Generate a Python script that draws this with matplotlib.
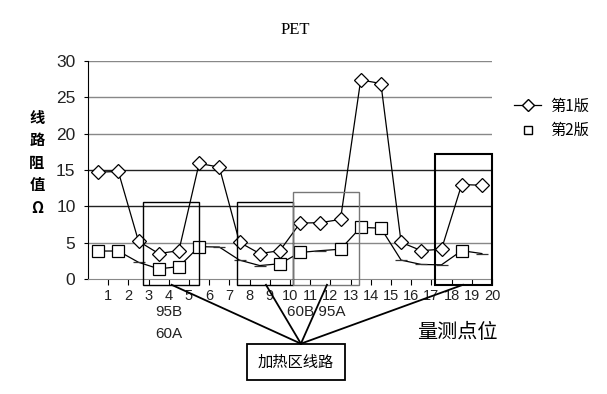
import matplotlib
matplotlib.use("Agg")
import matplotlib.pyplot as plt
from matplotlib.patches import Rectangle
from matplotlib.lines import Line2D

plt.rcParams['font.family'] = ['Liberation Sans', 'Noto Sans CJK SC', 'DejaVu Sans']

# data
points = list(range(1, 21))
ver1 = [14.7, 14.8, 5.2, 3.5, 3.9, 15.9, 15.4, 5.05, 3.5, 3.9,
        7.7, 7.75, 8.2, 27.4, 26.9, 5.05, 3.9, 4.1, 13.0, 12.9]
ver2 = [3.85, 3.85, 2.3, 1.4, 1.7, 4.45, 4.4, 2.6, 1.85, 2.1,
        3.65, 3.9, 4.1, 7.1, 7.0, 2.6, 2.0, 1.95, 3.9, 3.5]
# which points of version 2 still show a full square marker in the scan
ver2_square = [1, 2, 4, 5, 6, 10, 11, 13, 14, 15, 19]
y_ticks = [0, 5, 10, 15, 20, 25, 30]
series_names = ['第1版', '第2版']

dpi = 100
fig = plt.figure(figsize=(607 / dpi, 394 / dpi), dpi=dpi)
ax = fig.add_axes([88 / 607, 1 - 279 / 394, (492 - 88) / 607, (279 - 61) / 394])

# categories sit between tick labels (Excel style)
xs = [p - 0.5 for p in points]

for y in y_ticks[1:]:
    col = '#222222' if y in (10, 15) else '#888888'
    ax.axhline(y, color=col, lw=1.0, zorder=1)

ax.plot(xs, ver1, color='black', lw=0.9, marker='D', markersize=7,
        markerfacecolor='white', markeredgecolor='black', markeredgewidth=0.9, zorder=4)

ax.plot(xs, ver2, color='black', lw=0.9, zorder=3)
sq_x = [xs[i - 1] for i in ver2_square]
sq_y = [ver2[i - 1] for i in ver2_square]
ax.plot(sq_x, sq_y, ls='none', marker='s', markersize=8,
        markerfacecolor='white', markeredgecolor='black', markeredgewidth=0.9, zorder=4)
dash_x = [xs[i - 1] for i in points if i not in ver2_square]
dash_y = [ver2[i - 1] for i in points if i not in ver2_square]
ax.plot(dash_x, dash_y, ls='none', marker='_', markersize=9,
        markeredgecolor='#333333', markeredgewidth=0.9, zorder=4)

ax.set_xlim(0, 20)
ax.set_ylim(0, 30)
ax.set_xticks(points)
ax.set_xticklabels([str(p) for p in points], fontsize=10.5, color='#222222')
ax.set_yticks(y_ticks)
ax.set_yticklabels([str(y) for y in y_ticks], fontsize=12.5, color='#222222')
ax.tick_params(axis='x', length=4, pad=3)
ax.tick_params(axis='y', length=3, pad=6)
for s in ['top', 'right']:
    ax.spines[s].set_visible(False)
ax.spines['bottom'].set_color('#888888')

# heating-zone boxes
boxes = [(2.72, 5.5, 10.6, 'black', 1.0), (7.38, 10.17, 10.6, 'black', 1.0),
         (10.17, 13.43, 12.0, '#777777', 1.0), (17.18, 19.98, 17.2, 'black', 1.5)]
for x0, x1, top, col, lw in boxes:
    ax.add_patch(Rectangle((x0, -0.8), x1 - x0, top + 0.8, fill=False,
                           edgecolor=col, lw=lw, clip_on=False, zorder=5))

apex = (10.54, -8.9)
for sx in [4.14, 8.81, 11.83, 18.56]:
    ax.plot([sx, apex[0]], [-0.8, apex[1]], color='black', lw=1.3, clip_on=False, zorder=5)

ax.add_patch(Rectangle((7.87, -13.9), 12.72 - 7.87, 13.9 - 8.9, fill=False,
                       edgecolor='black', lw=1.3, clip_on=False))
ax.text(10.3, -11.4, '加热区线路', ha='center', va='center', fontsize=11,
        family=['Noto Sans CJK SC'])

ax.text(4.0, -4.6, '95B', ha='center', va='center', fontsize=11, color='#222222')
ax.text(4.0, -7.6, '60A', ha='center', va='center', fontsize=11, color='#222222')
ax.text(11.3, -4.6, '60B 95A', ha='center', va='center', fontsize=11, color='#222222')
ax.text(18.3, -7.3, '量测点位', ha='center', va='center', fontsize=14.5,
        family=['Noto Sans CJK SC'])

fig.text(295 / 607, 1 - 30 / 394, 'PET', ha='center', va='center', fontsize=12,
         family=['Liberation Serif'])

for i, ch in enumerate(['线', '路', '阻', '值', 'Ω']):
    fig.text(37 / 607, 1 - (118 + i * 22.5) / 394, ch, ha='center', va='center',
             fontsize=11, fontweight='bold', family=['Noto Sans CJK SC', 'DejaVu Sans'])

handles = [Line2D([], [], color='black', lw=0.9, marker='D', markersize=6,
                  markerfacecolor='white', markeredgecolor='black'),
           Line2D([], [], ls='none', marker='s', markersize=6,
                  markerfacecolor='white', markeredgecolor='black')]
fig.legend(handles, series_names, loc='upper left', bbox_to_anchor=(500 / 607, 1 - 84 / 394),
           frameon=False, handlelength=1.8, handletextpad=0.6,
           labelspacing=0.5, prop={'family': ['Noto Sans CJK SC'], 'size': 11})

fig.savefig('out.png', dpi=dpi)
